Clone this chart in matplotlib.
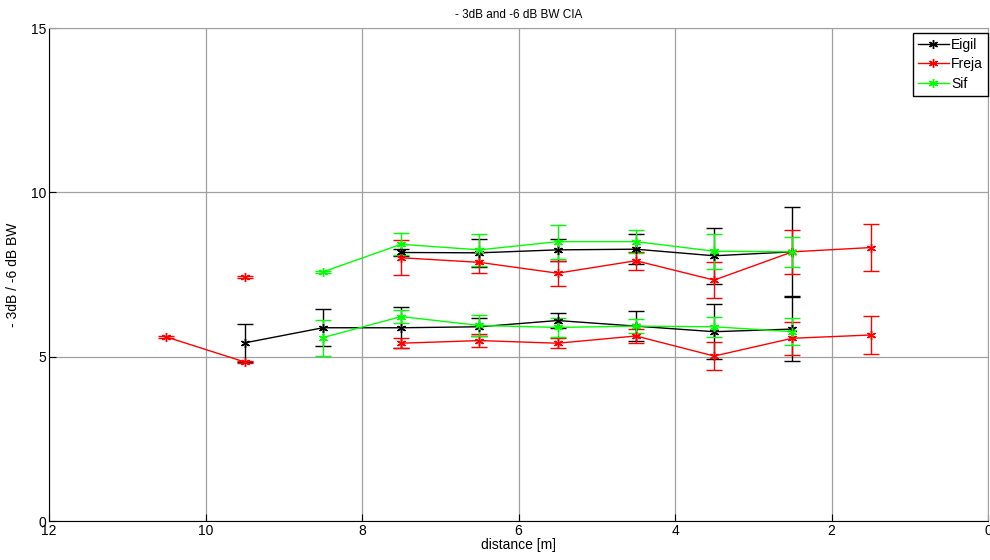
import numpy as np
import matplotlib
matplotlib.use("Agg")
import matplotlib.pyplot as plt

plt.rcParams['font.family'] = ['Liberation Sans', 'DejaVu Sans']

nan = np.nan
distance = [10.5, 9.5, 8.5, 7.5, 6.5, 5.5, 4.5, 3.5, 2.5, 1.5]

# -6 dB (upper) and -3 dB (lower) bandwidth with standard deviations
eigil_hi = [nan, nan, nan, 8.17, 8.16, 8.25, 8.27, 8.07, 8.19, nan]
eigil_hi_err = [nan, nan, nan, 0.10, 0.43, 0.34, 0.45, 0.85, 1.35, nan]
eigil_lo = [nan, 5.42, 5.88, 5.88, 5.91, 6.10, 5.93, 5.76, 5.84, nan]
eigil_lo_err = [nan, 0.57, 0.57, 0.62, 0.28, 0.22, 0.46, 0.84, 0.98, nan]

freja_hi = [nan, 7.43, nan, 8.01, 7.87, 7.54, 7.92, 7.33, 8.19, 8.32]
freja_hi_err = [nan, 0.03, nan, 0.53, 0.31, 0.38, 0.27, 0.54, 0.67, 0.72]
freja_lo = [5.60, 4.84, nan, 5.41, 5.49, 5.41, 5.63, 5.02, 5.56, 5.66]
freja_lo_err = [0.03, 0.03, nan, 0.16, 0.19, 0.15, 0.20, 0.42, 0.51, 0.57]

sif_hi = [nan, nan, 7.58, 8.42, 8.25, 8.50, 8.50, 8.21, 8.19, nan]
sif_hi_err = [nan, nan, 0.03, 0.34, 0.48, 0.52, 0.35, 0.53, 0.46, nan]
sif_lo = [nan, nan, 5.58, 6.22, 5.95, 5.89, 5.93, 5.91, 5.76, nan]
sif_lo_err = [nan, nan, 0.55, 0.20, 0.31, 0.30, 0.21, 0.30, 0.41, nan]

names = ["Eigil", "Freja", "Sif"]
colors = ["#000000", "#ff0000", "#00ff00"]
series = [
    (eigil_hi, eigil_hi_err, eigil_lo, eigil_lo_err),
    (freja_hi, freja_hi_err, freja_lo, freja_lo_err),
    (sif_hi, sif_hi_err, sif_lo, sif_lo_err),
]

fig = plt.figure(figsize=(9.9, 5.6), dpi=100)
ax = fig.add_axes([0.0495, 0.0696, 0.9485, 0.8804])

star = (6, 2, 0)
handles = []
for name, col, (hi, hie, lo, loe) in zip(names, colors, series):
    for vals, errs in ((hi, hie), (lo, loe)):
        h = ax.errorbar(distance, vals, yerr=errs, color=col, lw=1.0,
                        marker=star, markersize=6.5, markeredgewidth=1.0,
                        capsize=6, capthick=1.0, elinewidth=1.0)
    handles.append(h.lines[0])

ax.set_xlim(12, 0)
ax.set_ylim(0, 15)
ax.set_xticks([12, 10, 8, 6, 4, 2, 0])
ax.set_yticks([0, 5, 10, 15])
ax.grid(True, color="#a0a0a0", lw=0.9)
ax.set_axisbelow(True)
ax.tick_params(direction="in", length=5, labelsize=10, pad=2)
for s in ("top", "right"):
    ax.spines[s].set_color("#a0a0a0")
for s in ("left", "bottom"):
    ax.spines[s].set_color("black")

ax.set_title("- 3dB and -6 dB BW CIA", fontsize=8.5, pad=7)
ax.set_xlabel("distance [m]", fontsize=10, labelpad=0)
ax.set_ylabel("- 3dB / -6 dB BW", fontsize=10, labelpad=8)

leg = ax.legend(handles, names, loc="upper right", bbox_to_anchor=(1.0, 0.99),
                fontsize=10, fancybox=False, framealpha=1, edgecolor="black",
                borderaxespad=0.0, handlelength=2.2, handletextpad=0.2,
                labelspacing=0.4, borderpad=0.35)
leg.get_frame().set_linewidth(1.0)

fig.savefig("out.png", dpi=100)
